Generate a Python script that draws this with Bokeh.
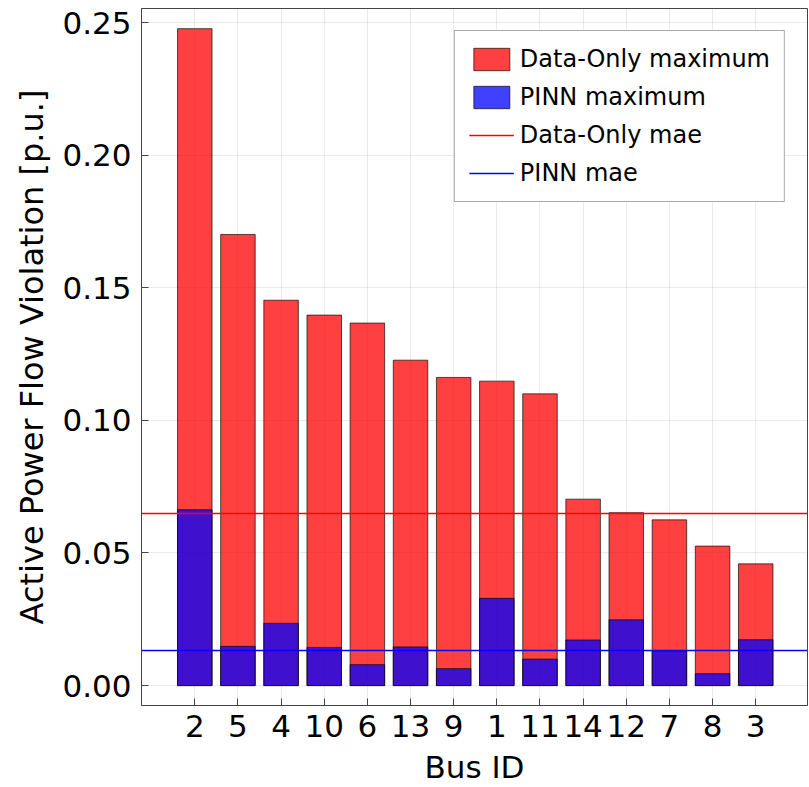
from bokeh.plotting import figure
from bokeh.models import Range1d, FixedTicker, NumeralTickFormatter, ColumnDataSource
from bokeh.embed import file_html
from bokeh.resources import INLINE

buses = ["2", "5", "4", "10", "6", "13", "9", "1", "11", "14", "12", "7", "8", "3"]
data_only_max = [0.2477, 0.1701, 0.1453, 0.1397, 0.1367, 0.1227, 0.1162, 0.1148, 0.1100,
                 0.0703, 0.0652, 0.0625, 0.0526, 0.0459]
pinn_max = [0.0663, 0.0148, 0.0235, 0.0144, 0.0079, 0.0146, 0.0064, 0.0329, 0.0100,
            0.0172, 0.0248, 0.0131, 0.0045, 0.0173]
data_only_mae = 0.0649
pinn_mae = 0.0131
y_ticks = [0.0, 0.05, 0.10, 0.15, 0.20, 0.25]

pos = list(range(1, len(buses) + 1))
src = ColumnDataSource(dict(x=pos, d=data_only_max, p=pinn_max))

FONT = "DejaVu Sans"

p = figure(width=809, height=787, output_backend="svg", toolbar_location=None,
           x_range=Range1d(-0.235, 15.2), y_range=Range1d(-0.0075, 0.2553),
           min_border_left=141, min_border_right=2, min_border_top=8, min_border_bottom=81)

p.vbar(x="x", top="d", width=0.8, source=src, fill_color="red", fill_alpha=0.75,
       line_color="black", line_alpha=0.65, line_width=1, legend_label="Data-Only maximum")
p.vbar(x="x", top="p", width=0.8, source=src, fill_color="blue", fill_alpha=0.75,
       line_color="black", line_alpha=0.65, line_width=1, legend_label="PINN maximum")
p.hspan(y=[data_only_mae], line_color="red", line_width=1.6, legend_label="Data-Only mae")
p.hspan(y=[pinn_mae], line_color="blue", line_width=1.6, legend_label="PINN mae")

# axes
p.xaxis.ticker = FixedTicker(ticks=pos)
p.xaxis.major_label_overrides = {x: b for x, b in zip(pos, buses)}
p.yaxis.ticker = FixedTicker(ticks=y_ticks)
p.yaxis.formatter = NumeralTickFormatter(format="0.00")
p.xaxis.axis_label = "Bus ID"
p.yaxis.axis_label = "Active Power Flow Violation [p.u.]"

for ax in (p.xaxis, p.yaxis):
    ax.major_label_text_font = FONT
    ax.major_label_text_font_size = "31px"
    ax.major_label_text_color = "black"
    ax.axis_label_text_font = FONT
    ax.axis_label_text_font_size = "31px"
    ax.axis_label_text_font_style = "normal"
    ax.axis_label_text_color = "black"
    ax.axis_line_color = "#444444"
    ax.major_tick_line_color = "#444444"
    ax.major_tick_in = 7
    ax.major_tick_out = 0
    ax.minor_tick_line_color = None
p.yaxis.axis_label_text_font_size = "32px"
p.xaxis.major_label_standoff = 9
p.yaxis.major_label_standoff = 10
p.xaxis.axis_label_standoff = 9
p.yaxis.axis_label_standoff = 8

p.grid.grid_line_color = "black"
p.grid.grid_line_alpha = 0.08
p.outline_line_color = "#444444"
p.outline_line_width = 1
p.background_fill_color = "white"
p.border_fill_color = "white"

lg = p.legend[0]
lg.location = "top_right"
lg.margin = 22
lg.padding = 14
lg.spacing = 10
lg.glyph_width = 45
lg.glyph_height = 28
lg.label_height = 28
lg.label_standoff = 6
lg.label_text_font = FONT
lg.label_text_font_size = "24px"
lg.label_text_color = "black"
lg.border_line_color = "#555555"
lg.border_line_width = 1
lg.background_fill_alpha = 1.0

open("out.html", "w").write(file_html(p, INLINE))
